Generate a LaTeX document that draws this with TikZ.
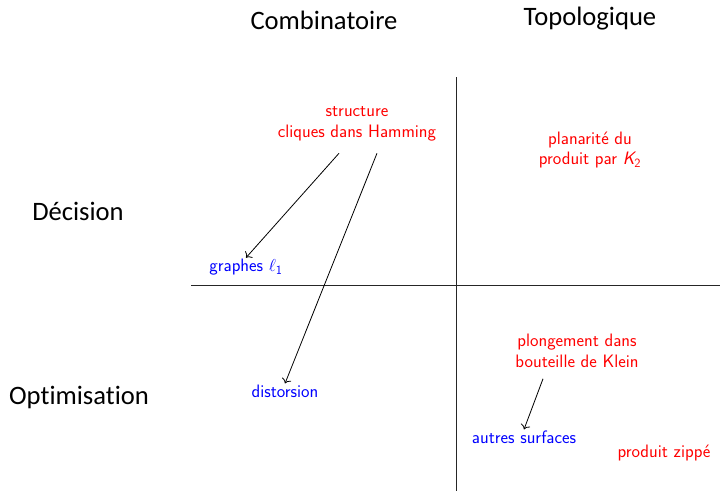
\documentclass[tikz,border=0pt]{standalone}
\usepackage{fontspec}
\newfontfamily\headfont[Ligatures=NoCommon]{Carlito}
\usetikzlibrary{calc,arrows.meta}
\begin{document}
\begin{tikzpicture}[x=1pt,y=-1pt,
  header/.style={font=\headfont\fontsize{26.6}{30}\selectfont, inner sep=0pt},
  item/.style={font=\sffamily\fontsize{18}{20.5}\selectfont, inner sep=1pt, align=center},
  open/.style={item, text=red},
  known/.style={item, text=blue},
  axis/.style={line width=0.9pt, draw=black!85},
  link/.style={-{To[scale=1.4]}, line width=0.8pt}]
\useasboundingbox (0,0) rectangle (720,491);
% headers
\node[header] (comb) at (324,20) {Combinatoire};
\node[header] (topo) at (590,19) {Topologique};
\node[header] (dec) at (78,211) {Décision};
\node[header] (opt) at (79,397) {Optimisation};
% axes
\coordinate (vtop) at (456,77);
\coordinate (vbot) at (456,491);
\coordinate (hleft) at (191,285);
\coordinate (hright) at (720,285);
\draw[axis] (vtop) -- (vbot);
\draw[axis] (hleft) -- (hright);
% items
\node[open] (struct) at (357,124) {structure\\cliques dans Hamming};
\node[open] (plan) at (590,150) {planarité du\\produit par {\slshape K}$_{\mathsf{2}}$};
\node[known] (graphes) at (246,267) {graphes $\ell_{\mathsf{1}}$};
\node[known] (dist) at (285,391) {distorsion};
\node[open] (klein) at (577,351) {plongement dans\\bouteille de Klein};
\node[known] (autres) at (524,437) {autres surfaces};
\node[open] (zip) at (664,453) {produit zippé};
% arrows
\coordinate (s1) at ($(struct.south)+(-18,11)$);
\coordinate (s2) at ($(struct.south)+(20,11)$);
\coordinate (s3) at ($(klein.south)+(-34,10)$);
\draw[link] (s1) -- (graphes.north);
\draw[link] (s2) -- (dist.north);
\draw[link] (s3) -- (autres.north);
\end{tikzpicture}
\end{document}
